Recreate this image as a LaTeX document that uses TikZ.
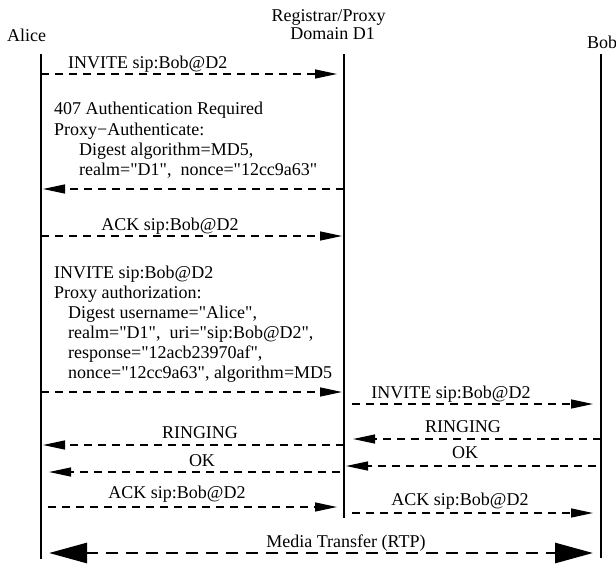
\documentclass[tikz,border=0pt]{standalone}
\usepackage{fontspec}
\setmainfont{Liberation Serif}[Ligatures=TeXOff]
\usetikzlibrary{arrows.meta}
\begin{document}
\begin{tikzpicture}[x=1pt,y=-1pt,
  life/.style={line width=2.2pt},
  msg/.style={line width=1.3pt, dash pattern=on 8pt off 6pt, -{Triangle[length=22pt,width=9pt]}},
  media/.style={line width=2.8pt, dash pattern=on 12pt off 8pt, {Triangle[length=38pt,width=20pt]}-{Triangle[length=38pt,width=20pt]}},
  lbl/.style={font=\fontsize{18}{20}\selectfont, inner sep=0pt, anchor=base},
  lbll/.style={lbl, anchor=base west},
]
\useasboundingbox (0,0) rectangle (616,563);
% headers
\node[lbll] (alice) at (7,41) {Alice};
\node[lbl] (reg) at (328.5,21) {Registrar/Proxy};
\node[lbl] (dom) at (332.5,39.5) {Domain D1};
\node[lbll] (bob) at (587,48) {Bob};
% lifelines
\coordinate (aT) at (41,54); \coordinate (aB) at (41,559);
\coordinate (pT) at (344,54); \coordinate (pB) at (344,518);
\coordinate (bT) at (601,54); \coordinate (bB) at (601,558);
\draw[life] (aT) -- (aB);
\draw[life] (pT) -- (pB);
\draw[life] (bT) -- (bB);
% 1 INVITE
\coordinate (m1s) at (41,74); \coordinate (m1e) at (337,74);
\draw[msg] (m1s) -- (m1e);
\node[lbll] (t1) at (68,68) {INVITE sip:Bob@D2};
% 2 407
\node[lbll] (t2a) at (54,114.5) {407 Authentication Required};
\node[lbll] (t2b) at (54,135) {Proxy−Authenticate:};
\node[lbll] (t2c) at (79,155.5) {Digest algorithm=MD5,};
\node[lbll] (t2d) at (79,175.5) {realm="D1",\ \ nonce="12cc9a63"};
\coordinate (m2s) at (344,189); \coordinate (m2e) at (43,189);
\draw[msg] (m2s) -- (m2e);
% 3 ACK
\node[lbl] (t3) at (170,230.5) {ACK sip:Bob@D2};
\coordinate (m3s) at (41,236); \coordinate (m3e) at (342,236);
\draw[msg] (m3s) -- (m3e);
% 4 INVITE with auth
\node[lbll] (t4a) at (54,278.5) {INVITE sip:Bob@D2};
\node[lbll] (t4b) at (54,298.5) {Proxy authorization:};
\node[lbll] (t4c) at (68,318.5) {Digest username="Alice",};
\node[lbll] (t4d) at (68,338.5) {realm="D1",\ \ uri="sip:Bob@D2",};
\node[lbll] (t4e) at (68,358.5) {response="12acb23970af",};
\node[lbll] (t4f) at (68,378.5) {nonce="12cc9a63", algorithm=MD5};
\coordinate (m4s) at (41,392); \coordinate (m4e) at (342,392);
\draw[msg] (m4s) -- (m4e);
% 5 INVITE proxy->Bob
\node[lbl] (t5) at (451,398.5) {INVITE sip:Bob@D2};
\coordinate (m5s) at (352,404); \coordinate (m5e) at (593,404);
\draw[msg] (m5s) -- (m5e);
% 6 RINGING
\node[lbl] (t6) at (463,432.5) {RINGING};
\coordinate (m6s) at (601,439); \coordinate (m6e) at (353,439);
\draw[msg] (m6s) -- (m6e);
\node[lbl] (t7) at (200,438.5) {RINGING};
\coordinate (m7s) at (344,445); \coordinate (m7e) at (43,445);
\draw[msg] (m7s) -- (m7e);
% OK
\node[lbl] (t8) at (465,458.5) {OK};
\coordinate (m8s) at (596,466); \coordinate (m8e) at (346,466);
\draw[msg] (m8s) -- (m8e);
\node[lbl] (t9) at (202,466.5) {OK};
\coordinate (m9s) at (340,472); \coordinate (m9e) at (49,472);
\draw[msg] (m9s) -- (m9e);
% ACK
\node[lbl] (t10) at (177,498.5) {ACK sip:Bob@D2};
\coordinate (m10s) at (48,507); \coordinate (m10e) at (337,507);
\draw[msg] (m10s) -- (m10e);
\node[lbl] (t11) at (460,505.5) {ACK sip:Bob@D2};
\coordinate (m11s) at (352,513); \coordinate (m11e) at (593,513);
\draw[msg] (m11s) -- (m11e);
% Media
\node[lbl] (t12) at (346,547) {Media Transfer (RTP)};
\coordinate (m12s) at (49,553); \coordinate (m12e) at (593,553);
\draw[media] (m12s) -- (m12e);
\end{tikzpicture}
\end{document}
